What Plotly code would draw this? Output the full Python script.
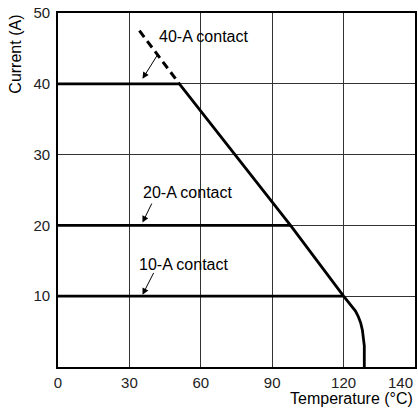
import plotly.graph_objects as go

# Data
x_ticks = [0, 30, 60, 90, 120]
x_tick_labels = ["0", "30", "60", "90", "120"]
y_ticks = [10, 20, 30, 40, 50]
y_tick_labels = ["10", "20", "30", "40", "50"]

temp_40 = [0, 51]
curr_40 = [40, 40]
temp_20 = [0, 97.7]
curr_20 = [20, 20]
temp_10 = [0, 120.0]
curr_10 = [10, 10]
temp_dash = [34.2, 51]
curr_dash = [47.5, 40]
temp_derate = [51, 97.7, 120.0, 122.0, 123.6, 125.0, 126.2, 127.2, 127.9, 128.4, 128.7, 128.7]
curr_derate = [40, 20, 10.0, 9.2, 8.6, 7.9, 7.1, 6.2, 5.2, 4.2, 3.0, 0]

FONT = "Liberation Sans, Arial, Helvetica, sans-serif"
fig = go.Figure()

line_style = dict(color="black", width=2.7)
for tx, cy in [(temp_40, curr_40), (temp_20, curr_20), (temp_10, curr_10)]:
    fig.add_trace(go.Scatter(x=tx, y=cy, mode="lines", line=line_style, hoverinfo="skip"))
fig.add_trace(go.Scatter(x=temp_derate, y=curr_derate, mode="lines",
                         line=dict(color="black", width=2.8), hoverinfo="skip"))
fig.add_trace(go.Scatter(x=temp_dash, y=curr_dash, mode="lines",
                         line=dict(color="black", width=3, dash="8px,5px"), hoverinfo="skip"))

labels = [
    ("40-A contact", 41.4, 46.7, 42.2, 44.3, 35.5, 40.7),
    ("20-A contact", 35.0, 24.6, 39.7, 23.3, 35.5, 20.4),
    ("10-A contact", 33.4, 14.5, 40.5, 13.5, 35.5, 10.2),
]
for text, tx, ty, ax, ay, hx, hy in labels:
    fig.add_annotation(x=tx, y=ty, text=text, showarrow=False, xanchor="left",
                       yanchor="middle", font=dict(family=FONT, size=16, color="black"))
    fig.add_annotation(x=hx, y=hy, ax=ax, ay=ay, axref="x", ayref="y", text="",
                       showarrow=True, arrowhead=2, arrowsize=1.3, arrowwidth=1,
                       arrowcolor="black")

fig.add_annotation(x=1.0, y=-0.015, xref="paper", yref="paper", text="140",
                   showarrow=False, xanchor="right", yanchor="top",
                   font=dict(family=FONT, size=15, color="#222"))
fig.add_annotation(x=1.0, y=-0.118, xref="paper", yref="paper", text="Temperature (°C)",
                   showarrow=False, xanchor="right", yanchor="bottom",
                   font=dict(family=FONT, size=16, color="black"))
fig.add_annotation(x=-0.12, y=1.0, xref="paper", yref="paper", text="Current (A)",
                   showarrow=False, textangle=-90, xanchor="center", yanchor="top",
                   font=dict(family=FONT, size=16, color="black"))

fig.update_layout(
    width=418, height=408,
    margin=dict(l=58, r=1, t=13, b=41),
    paper_bgcolor="white", plot_bgcolor="white",
    showlegend=False,
    font=dict(family=FONT, size=15, color="#222"),
)
fig.update_xaxes(range=[0, 150], tickvals=x_ticks, ticktext=x_tick_labels,
                 showgrid=True, gridcolor="#333", gridwidth=1, zeroline=False,
                 showline=True, linecolor="black", linewidth=1.8, mirror=True,
                 ticks="", ticklabelstandoff=1, fixedrange=True)
fig.update_yaxes(range=[0, 50], tickvals=y_ticks, ticktext=y_tick_labels,
                 showgrid=True, gridcolor="#333", gridwidth=1, zeroline=False,
                 showline=True, linecolor="black", linewidth=1.8, mirror=True,
                 ticks="", ticklabelstandoff=3, fixedrange=True)

fig.write_html("out.html", config={"displayModeBar": False, "staticPlot": True},
               post_script="document.body.style.margin='0';document.body.style.overflow='hidden';")
